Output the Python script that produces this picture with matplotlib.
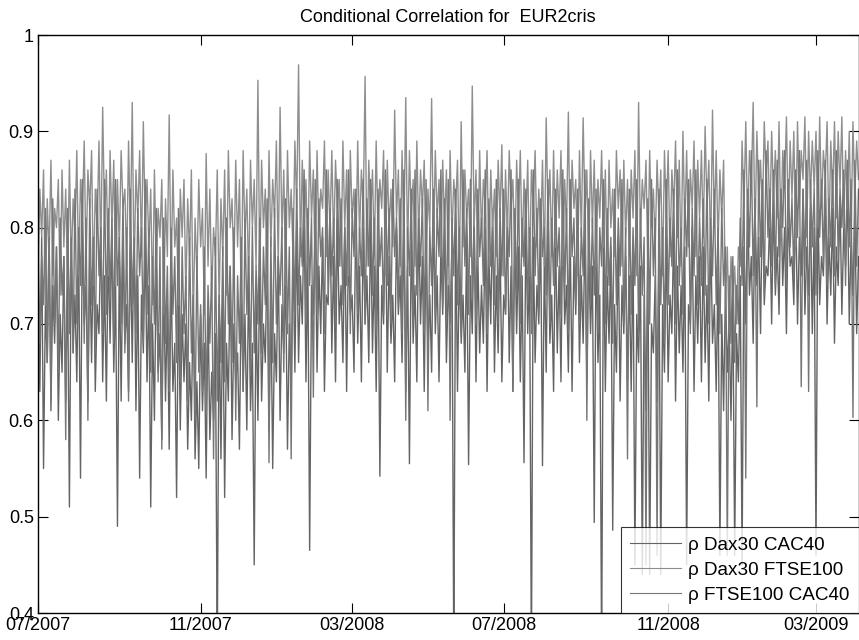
import matplotlib
matplotlib.use('Agg')
import matplotlib.pyplot as plt
import numpy as np

plt.rcParams['font.family'] = ['Liberation Sans', 'DejaVu Sans']

title = 'Conditional Correlation for  EUR2cris'
labels = ['\u03c1 Dax30 CAC40', '\u03c1 Dax30 FTSE100', '\u03c1 FTSE100 CAC40']
colors = ['#646464', '#8e8e8e', '#767676']

# daily correlations in percent, 20 trading days per row
dax_cac = [
    76, 63, 79, 55, 72, 66, 80, 61, 74, 68, 78, 60, 71, 65, 77, 62, 75, 51, 79, 67,
    73, 64, 78, 54, 80, 70, 74, 62, 77, 66, 79, 63, 72, 69, 80, 64, 75, 62, 78, 68,
    80, 65, 74, 49, 77, 62, 79, 68, 72, 63, 78, 66, 80, 61, 75, 54, 73, 67, 79, 64,
    74, 51, 70, 60, 77, 65, 69, 58, 75, 62, 72, 57, 76, 63, 68, 52, 74, 59, 71, 64,
    70, 57, 66, 60, 73, 56, 64, 55, 71, 61, 68, 54, 72, 58, 65, 60, 69, 35, 72, 56,
    73, 52, 68, 62, 76, 58, 70, 64, 67, 57, 74, 63, 71, 59, 75, 61, 68, 45, 73, 60,
    76, 62, 70, 66, 78, 59, 73, 55, 69, 64, 77, 60, 72, 67, 75, 57, 70, 63, 78, 65,
    80, 66, 75, 70, 82, 64, 77, 46.5, 74, 71, 81, 65, 76, 69, 79, 63, 73, 72, 82, 67,
    77, 64, 81, 70, 74, 66, 80, 63, 78, 71, 73, 65, 82, 68, 76, 64, 80, 70, 75, 66,
    81, 67, 76, 63, 79, 54.2, 74, 70, 82, 65, 77, 68, 73, 64, 80, 71, 75, 66, 81, 63,
    76, 55.5, 80, 68, 74, 64, 81, 70, 77, 63, 79, 67, 73, 65, 82, 69, 75, 64, 78, 71,
    80, 66, 74, 70, 78, 35, 81, 63, 76, 68, 73, 65, 79, 55.4, 75, 69, 82, 64, 77, 67,
    74, 68, 80, 63, 77, 70, 82, 65, 75, 67, 79, 64, 73, 71, 81, 66, 76, 63, 80, 69,
    78, 64, 75, 55.6, 81, 69, 76, 35, 79, 66, 74, 70, 80, 55.3, 77, 65, 82, 68, 73, 63,
    80, 67, 76, 64, 82, 70, 74, 65, 79, 63, 77, 71, 81, 66, 75, 68, 80, 64, 78, 69,
    76, 49.4, 79, 66, 73, 35, 80, 63, 75, 68, 78, 48.6, 72, 65, 79, 62, 74, 69, 77, 64,
    75, 63, 78, 45, 71, 66, 76, 44, 73, 61, 77, 44, 70, 67, 75, 62, 78, 44, 72, 65,
    79, 64, 73, 69, 80, 62, 76, 67, 74, 65, 78, 45, 72, 70, 80, 63, 75, 68, 77, 64,
    78, 66, 74, 62, 80, 68, 72, 63, 76, 46, 71, 61, 74, 65, 70, 60, 73, 46, 69, 64,
    75, 45, 78, 70, 83, 73, 77, 68, 82, 74, 79, 69, 84, 72, 76, 75, 81, 70, 83, 73,
    78, 71, 84, 74, 80, 69, 82, 76, 77, 72, 83, 70, 79, 75, 84, 71, 78, 73, 82, 69,
    80, 46, 83, 72, 77, 75, 84, 70, 79, 73, 82, 68, 78, 74, 83, 71, 80, 76, 84, 70,
    79, 73, 82, 69, 77,
]

dax_ftse = [
    74, 84, 79, 86, 72, 83, 77, 87, 75, 82, 80, 85, 73, 86, 78, 84, 74, 87, 76, 83,
    79, 88, 75, 85, 81, 89, 76, 86, 82, 88, 74, 84, 80, 89, 77, 92.5, 81, 86, 75, 88,
    80, 87, 74, 85, 78, 88, 82, 84, 76, 89, 79, 93, 75, 86, 81, 88, 77, 91, 80, 85,
    78, 84, 72, 86, 76, 82, 79, 85, 71, 83, 77, 91.7, 74, 86, 78, 81, 72, 84, 79, 85,
    73, 83, 77, 86, 70, 81, 75, 85, 78, 82, 71, 87.7, 76, 84, 73, 80, 77, 86, 72, 83,
    77, 86, 73, 88, 80, 83, 75, 87, 78, 85, 72, 88, 79, 84, 74, 87, 80, 85, 76, 95.3,
    75, 87, 80, 84, 73, 88, 78, 85, 81, 89, 76, 92.5, 79, 86, 74, 88, 80, 84, 77, 89,
    82, 96.9, 77, 87, 80, 85, 76, 89, 81, 86, 75, 88, 79, 84, 82, 89, 77, 86, 80, 88,
    78, 87, 82, 85, 76, 89, 80, 86, 75, 88, 81, 84, 77, 89, 79, 86, 82, 95.7, 76, 87,
    81, 86, 77, 89, 79, 85, 82, 88, 75, 87, 80, 84, 78, 92.2, 81, 86, 76, 88, 79, 93.5,
    77, 88, 81, 85, 76, 89, 79, 86, 82, 87, 75, 84, 80, 93.4, 78, 88, 81, 85, 77, 87,
    80, 86, 76, 88, 79, 85, 82, 87, 75, 91, 78, 86, 81, 84, 77, 94.7, 80, 86, 76, 88,
    79, 85, 82, 88, 76, 86, 80, 84, 77, 87, 81, 88.6, 75, 86, 79, 88, 82, 85, 76, 87,
    81, 88, 77, 85, 80, 87, 75, 86, 82, 88, 78, 84, 79, 87, 76, 91.4, 81, 86, 77, 88,
    78, 86, 81, 88, 76, 85, 80, 92, 77, 87, 82, 85, 75, 88, 79, 91.4, 81, 86, 76, 88,
    80, 87, 76, 85, 81, 88, 78, 86, 75, 87, 80, 84, 77, 88, 82, 86, 76, 87, 79, 85,
    77, 86, 81, 88, 75, 93, 79, 85, 82, 87, 76, 88, 80, 84, 78, 87, 81, 86, 75, 88,
    81, 88, 77, 86, 82, 89, 79, 87, 76, 90, 80, 88, 78, 86, 82, 89, 77, 87, 81, 88,
    79, 90.5, 82, 87, 77, 92.2, 80, 88, 78, 86, 81, 87, 72, 78, 69, 77, 73, 76, 70, 78,
    76, 89, 82, 91, 80, 88, 84, 93, 79, 90, 83, 87, 81, 91, 85, 89, 80, 90, 83, 88,
    81, 91, 79, 88, 84, 91.5, 80, 89, 83, 90, 78, 91, 82, 88, 85, 91.5, 79, 90, 83, 89,
    84, 90, 80, 91.5, 82, 88, 85, 91, 79, 89, 83, 91, 81, 90, 84, 91.5, 80, 88, 82, 90,
    79, 91, 83, 89, 85,
]

ftse_cac = [
    80, 68, 77, 72, 82, 66, 79, 62, 83, 70, 78, 65, 81, 73, 77, 58, 82, 69, 79, 67,
    84, 70, 80, 74, 85, 68, 81, 60, 83, 72, 79, 67, 84, 75, 80, 69, 85, 71, 82, 73,
    81, 68, 85, 74, 79, 70, 83, 67, 80, 62, 84, 72, 79, 69, 82, 75, 80, 68, 85, 71,
    80, 65, 77, 70, 82, 64, 78, 57, 81, 68, 76, 63, 80, 71, 77, 66, 82, 64, 78, 69,
    75, 62, 79, 67, 73, 60, 77, 65, 72, 63, 78, 61, 74, 68, 76, 56, 79, 62, 73, 66,
    78, 64, 81, 70, 76, 66, 80, 60, 75, 68, 79, 63, 81, 71, 77, 65, 80, 67, 76, 70,
    81, 67, 78, 72, 83, 55.6, 79, 66, 82, 70, 77, 73, 80, 65, 83, 69, 78, 56, 82, 71,
    84, 72, 80, 76, 86, 70, 82, 74, 81, 62.4, 85, 71, 83, 77, 80, 69, 86, 73, 82, 75,
    81, 70, 85, 76, 83, 72, 80, 74, 86, 69, 82, 77, 84, 71, 80, 75, 85, 70, 83, 76,
    85, 73, 81, 69, 84, 76, 80, 71, 86, 74, 82, 70, 85, 77, 81, 72, 83, 69, 86, 60,
    80, 75, 84, 70, 86, 73, 81, 76, 83, 69, 85, 61, 80, 74, 84, 71, 82, 77, 86, 72,
    83, 70, 85, 60, 81, 75, 84, 72, 80, 69, 86, 76, 82, 71, 85, 73, 80, 70, 84, 77,
    81, 74, 86, 69, 83, 76, 80, 72, 85, 70, 82, 75, 84, 71, 80, 77, 86, 63, 82, 73,
    85, 70, 81, 76, 84, 72, 80, 69, 86, 75, 82, 71, 83, 77, 80, 73, 85, 70, 81, 74,
    84, 76, 80, 71, 86, 73, 82, 69, 85, 77, 81, 72, 84, 70, 80, 75, 86, 60, 83, 72,
    81, 73, 84, 69, 80, 76, 85, 70, 82, 74, 79, 68, 84, 72, 81, 75, 85, 70, 80, 56,
    84, 71, 80, 74, 85, 69, 82, 73, 79, 45, 83, 70, 85, 75, 81, 46, 84, 72, 80, 68,
    85, 72, 81, 76, 84, 70, 86, 74, 80, 71, 83, 77, 85, 69, 82, 75, 86, 72, 81, 74,
    83, 73, 85, 70, 81, 75, 84, 72, 80, 69, 82, 74, 78, 46, 75, 68, 77, 66, 74, 70,
    81, 74, 86, 54, 84, 78, 88, 75, 83, 61.4, 87, 77, 85, 73, 88, 79, 84, 76, 86, 74,
    87, 77, 84, 80, 88, 74, 85, 78, 83, 75, 86, 79, 88, 63.5, 84, 76, 87, 63, 85, 78,
    84, 73, 88, 79, 85, 76, 87, 74, 83, 78, 86, 75, 88, 77, 84, 80, 86, 74, 87, 78,
    85, 60.3, 87, 76, 84,
]

tick_days = [0, 88, 170, 252, 341, 421]
tick_labels = ['07/2007', '11/2007', '03/2008', '07/2008', '11/2008', '03/2009']

fig = plt.figure(figsize=(8.59, 6.40), dpi=100)
ax = fig.add_axes([38 / 859, 27 / 640, 820.5 / 859, 578 / 640])

for series, col, lab in zip([dax_cac, dax_ftse, ftse_cac], colors, labels):
    rho = np.array(series) / 100.0
    days = np.arange(len(rho))
    ax.plot(days, rho, color=col, lw=1.0, label=lab)

ax.set_xlim(0, 444)
ax.set_ylim(0.4, 1.0)
ax.set_yticks([0.4, 0.5, 0.6, 0.7, 0.8, 0.9, 1.0])
ax.set_yticklabels(['0.4', '0.5', '0.6', '0.7', '0.8', '0.9', '1'])
ax.set_xticks(tick_days)
ax.set_xticklabels(tick_labels)
ax.tick_params(direction='in', length=7, width=0.8, labelsize=13,
               top=True, right=True, pad=3)
for sp in ax.spines.values():
    sp.set_linewidth(1.0)

ax.set_title(title, fontsize=13, pad=9)

leg = ax.legend(loc='lower right', bbox_to_anchor=(1.0, 0.0), fontsize=13.6,
                frameon=True, fancybox=False, edgecolor='black',
                borderaxespad=0, handlelength=2.7, handletextpad=0.35,
                labelspacing=0.4, borderpad=0.5)
leg.get_frame().set_linewidth(0.8)
for line in leg.get_lines():
    line.set_linewidth(0.8)

fig.savefig('out.png', dpi=100)
